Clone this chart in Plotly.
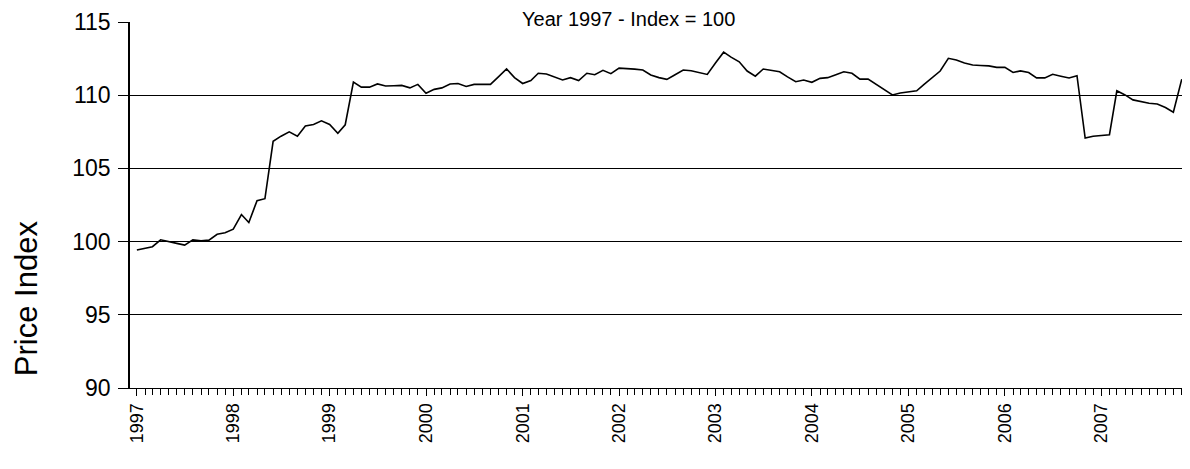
import pandas as pd
import plotly.graph_objects as go

# =============================================
# Dados: índice de preços mensal (1997 = 100)
# =============================================
price_1997 = [99.42, 99.55, 99.65, 100.12, 100.02, 99.88, 99.76, 100.12, 100.06, 100.10, 100.50, 100.60]
price_1998 = [100.85, 101.85, 101.30, 102.80, 102.93, 106.85, 107.20, 107.50, 107.20, 107.90, 108.00, 108.25]
price_1999 = [108.00, 107.40, 107.98, 110.90, 110.55, 110.55, 110.77, 110.63, 110.65, 110.67, 110.50, 110.74]
price_2000 = [110.13, 110.40, 110.50, 110.77, 110.80, 110.60, 110.74, 110.74, 110.74, 111.25, 111.80, 111.20]
price_2001 = [110.80, 111.00, 111.50, 111.45, 111.25, 111.04, 111.20, 111.00, 111.50, 111.40, 111.70, 111.47]
price_2002 = [111.85, 111.83, 111.78, 111.72, 111.38, 111.20, 111.08, 111.40, 111.72, 111.67, 111.55, 111.42]
price_2003 = [112.20, 112.94, 112.60, 112.28, 111.65, 111.30, 111.79, 111.70, 111.60, 111.25, 110.92, 111.04]
price_2004 = [110.88, 111.15, 111.20, 111.40, 111.60, 111.50, 111.10, 111.10, 110.75, 110.40, 110.02, 110.15]
price_2005 = [110.25, 110.30, 110.74, 111.20, 111.65, 112.52, 112.40, 112.20, 112.06, 112.03, 112.00, 111.90]
price_2006 = [111.90, 111.55, 111.66, 111.55, 111.18, 111.18, 111.43, 111.30, 111.18, 111.33, 107.07, 107.20]
price_2007 = [107.25, 107.30, 110.30, 110.02, 109.68, 109.55, 109.45, 109.40, 109.16, 108.84, 111.04, 111.33]

price_index = (price_1997 + price_1998 + price_1999 + price_2000 + price_2001 + price_2002
               + price_2003 + price_2004 + price_2005 + price_2006 + price_2007)
months = pd.date_range("1997-01-01", periods=len(price_index), freq="MS")

years = ["1997", "1998", "1999", "2000", "2001", "2002", "2003", "2004", "2005", "2006", "2007"]
year_ticks = [f"{y}-01-01" for y in years]
y_ticks = [90, 95, 100, 105, 110, 115]

FONT = "Liberation Sans, Arial, sans-serif"

# =============================================
# Figura
# (a página tem 8px de margem no body, por isso 1182x461)
# =============================================
fig = go.Figure()

fig.add_trace(go.Scatter(
    x=months, y=price_index,
    mode="lines",
    line=dict(color="black", width=1.6),
    showlegend=False
))

fig.update_layout(
    width=1182, height=461,
    margin=dict(l=122, r=0, t=14, b=81),
    paper_bgcolor="white",
    plot_bgcolor="white",
    font=dict(family=FONT, color="black"),
    xaxis=dict(
        type="date",
        range=["1996-12-06", "2007-12-03"],
        tickvals=year_ticks,
        ticktext=years,
        tickangle=-90,
        ticks="outside", ticklen=7, tickwidth=1, tickcolor="black",
        minor=dict(dtick="M1", tick0="1997-01-01", ticks="outside", ticklen=6,
                   tickwidth=1, tickcolor="black", showgrid=False),
        tickfont=dict(size=18, family=FONT),
        showline=True, linecolor="black", linewidth=1,
        showgrid=False, zeroline=False
    ),
    yaxis=dict(
        range=[90, 115],
        tickvals=y_ticks,
        ticks="outside", ticklen=10, tickwidth=1, tickcolor="black",
        ticklabelstandoff=3,
        tickfont=dict(size=23, family=FONT),
        showline=True, linecolor="black", linewidth=1.5,
        showgrid=True, gridcolor="black", gridwidth=1,
        zeroline=False
    ),
    annotations=[
        dict(text="Year 1997 - Index = 100", xref="paper", yref="paper",
             x=0.47, y=1, xanchor="center", yanchor="bottom", yshift=-10,
             showarrow=False, font=dict(size=20, family=FONT, color="black")),
        dict(text="Price Index", xref="paper", yref="paper",
             x=-0.097, y=0.246, xanchor="center", yanchor="middle",
             textangle=-90, showarrow=False,
             font=dict(size=31, family=FONT, color="black"))
    ]
)

fig.write_html("out.html")
